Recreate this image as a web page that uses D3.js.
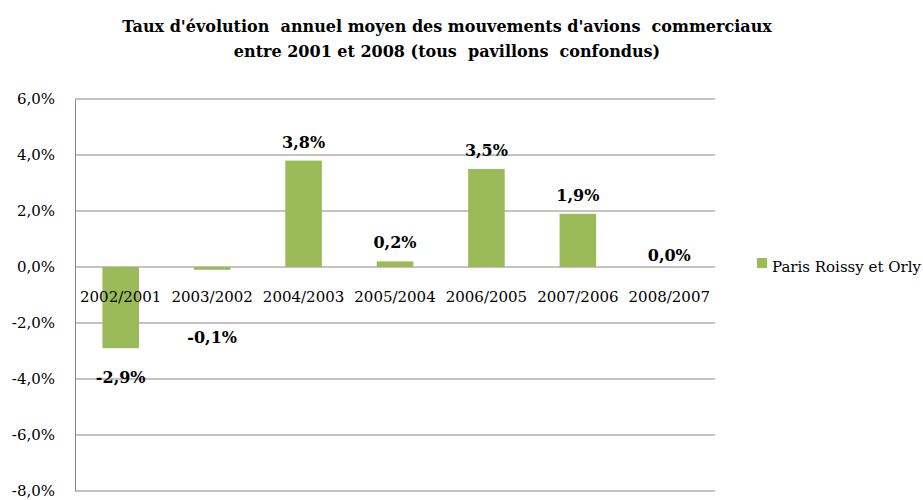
<!DOCTYPE html>
<html lang="fr">
<head>
    <meta charset="UTF-8">
    <title>Taux d'évolution</title>
    <script src="https://cdn.jsdelivr.net/npm/d3@7"></script>
    <style>
        body { margin: 0; background: #fff; }
        text { font-family: "DejaVu Serif", "Liberation Serif", serif; fill: #000; }
        .title { white-space: pre; }
    </style>
</head>
<body>
    <script>
        //data
        var categories = ['2002/2001', '2003/2002', '2004/2003', '2005/2004', '2006/2005', '2007/2006', '2008/2007'];
        var values = [-2.9, -0.1, 3.8, 0.2, 3.5, 1.9, 0.0];
        var yTicks = [6, 4, 2, 0, -2, -4, -6, -8];
        var seriesName = 'Paris Roissy et Orly';

        var w = 923, h = 500;
        var plotLeft = 75, plotRight = 715, plotTop = 99, plotBottom = 491;

        var svg = d3.select('body').append('svg')
            .attr('width', w)
            .attr('height', h);

        //scales
        var xScale = d3.scaleBand()
            .domain(categories)
            .range([plotLeft, plotRight])
            .paddingInner(0.6)
            .paddingOuter(0.3);

        var yScale = d3.scaleLinear()
            .domain([-8, 6])
            .range([plotBottom, plotTop]);

        var fmt = function(v) { return v.toFixed(1).replace('.', ',') + '%'; };

        //title
        svg.append('text')
            .attr('class', 'title')
            .attr('x', 447).attr('y', 32)
            .attr('text-anchor', 'middle')
            .attr('font-size', '16px').attr('font-weight', 'bold')
            .text("Taux d'évolution  annuel moyen des mouvements d'avions  commerciaux");
        svg.append('text')
            .attr('class', 'title')
            .attr('x', 447).attr('y', 57)
            .attr('text-anchor', 'middle')
            .attr('font-size', '16px').attr('font-weight', 'bold')
            .text('entre 2001 et 2008 (tous  pavillons  confondus)');

        //gridlines
        svg.selectAll('line.grid')
            .data(yTicks)
            .enter().append('line')
            .attr('class', 'grid')
            .attr('x1', plotLeft).attr('x2', plotRight)
            .attr('y1', function(d) { return yScale(d); })
            .attr('y2', function(d) { return yScale(d); })
            .attr('stroke', '#878787').attr('stroke-width', 1);

        //y axis
        var yAxis = d3.axisLeft(yScale)
            .tickValues(yTicks)
            .tickSize(0)
            .tickPadding(20)
            .tickFormat(fmt);
        var gy = svg.append('g')
            .attr('transform', 'translate(' + plotLeft + ',0)')
            .call(yAxis);
        gy.select('.domain').attr('stroke', '#878787');
        gy.selectAll('text').attr('font-size', '15px')
            .attr('font-family', '"DejaVu Serif", serif');

        //bars
        svg.selectAll('rect.bar')
            .data(values)
            .enter().append('rect')
            .attr('class', 'bar')
            .attr('x', function(d, i) { return xScale(categories[i]); })
            .attr('y', function(d) { return yScale(Math.max(d, 0)); })
            .attr('width', xScale.bandwidth())
            .attr('height', function(d) { return Math.abs(yScale(d) - yScale(0)); })
            .attr('fill', '#9BBB59');

        //category labels
        svg.selectAll('text.cat')
            .data(categories)
            .enter().append('text')
            .attr('class', 'cat')
            .attr('x', function(d) { return xScale(d) + xScale.bandwidth() / 2; })
            .attr('y', yScale(0) + 35)
            .attr('text-anchor', 'middle')
            .attr('font-size', '15px')
            .text(function(d) { return d; });

        //value labels
        svg.selectAll('text.val')
            .data(values)
            .enter().append('text')
            .attr('class', 'val')
            .attr('x', function(d, i) { return xScale(categories[i]) + xScale.bandwidth() / 2; })
            .attr('y', function(d) {
                if (d < 0) return Math.max(yScale(d) + 35, yScale(0) + 76);
                return yScale(d) - (d > 0 ? 13 : 6);
            })
            .attr('text-anchor', 'middle')
            .attr('font-size', '16px').attr('font-weight', 'bold')
            .text(fmt);

        //legend
        svg.append('rect')
            .attr('x', 757).attr('y', 258)
            .attr('width', 10).attr('height', 10)
            .attr('fill', '#9BBB59');
        svg.append('text')
            .attr('x', 772).attr('y', 272)
            .attr('font-size', '15px')
            .text(seriesName);
    </script>
</body>
</html>
